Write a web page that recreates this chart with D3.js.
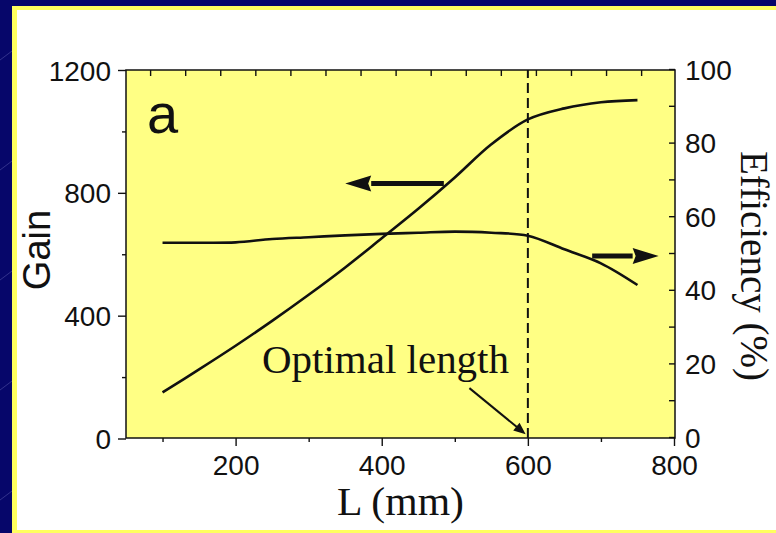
<!DOCTYPE html>
<html>
<head>
<meta charset="utf-8">
<script src="https://cdn.jsdelivr.net/npm/d3@7"></script>
<style>
  html, body { margin: 0; padding: 0; background: #06066a; }
  svg { display: block; }
</style>
</head>
<body>
<svg id="chart" width="776" height="533"></svg>
<script>
// values
var lengths = [100, 150, 200, 250, 300, 350, 400, 450, 500, 550, 600, 650, 700, 750];
var gainValues = [150, 225, 302, 383, 468, 557, 652, 748, 850, 958, 1039, 1075, 1095, 1102];
var efficiencyValues = [52.8, 52.8, 52.9, 53.8, 54.3, 54.8, 55.2, 55.5, 55.8, 55.5, 54.7, 51.0, 47.2, 41.3];

var xTicks = [200, 400, 600, 800],
    xMinorTicks = [100, 300, 500, 700],
    topTicks = [83, 131, 179, 227, 275, 323, 371, 419, 467, 515, 563, 611, 659, 707, 755];
var gainTicks = [0, 400, 800, 1200],
    gainMinorTicks = [200, 600, 1000];
var effTicks = [0, 10, 20, 30, 40, 50, 60, 70, 80, 90, 100];

var optimalLength = 600;

var svg = d3.select("#chart"),
    width = +svg.attr("width"),
    height = +svg.attr("height");

// slide background: navy with faint streaks
var defs = svg.append("defs");
var pat = defs.append("pattern")
    .attr("id", "streaks")
    .attr("width", 170).attr("height", 110)
    .attr("patternUnits", "userSpaceOnUse");
pat.append("rect").attr("width", 170).attr("height", 110).attr("fill", "#06066a");
pat.append("line")
    .attr("x1", 0).attr("y1", 60).attr("x2", 40).attr("y2", 30)
    .attr("stroke", "rgba(160,160,230,0.35)").attr("stroke-width", 0.8);
pat.append("line")
    .attr("x1", 90).attr("y1", 110).attr("x2", 130).attr("y2", 80)
    .attr("stroke", "rgba(160,160,230,0.3)").attr("stroke-width", 0.8);

svg.append("rect").attr("width", width).attr("height", height).attr("fill", "url(#streaks)");

// yellow framed white panel
svg.append("rect")
    .attr("x", 12).attr("y", 6)
    .attr("width", width).attr("height", height)
    .attr("fill", "#ffff5e");
svg.append("rect")
    .attr("x", 17).attr("y", 10)
    .attr("width", width).attr("height", 520)
    .attr("fill", "#ffffff");

var plot = {left: 126, top: 70, right: 675, bottom: 438};

var x = d3.scaleLinear().domain([50, 800]).range([plot.left, 674]);
var yGain = d3.scaleLinear().domain([0, 1200]).range([438.5, 70]);
var yEff = d3.scaleLinear().domain([0, 100]).range([437, 69]);

svg.append("rect")
    .attr("x", plot.left).attr("y", plot.top)
    .attr("width", plot.right - plot.left).attr("height", plot.bottom - plot.top)
    .attr("fill", "#ffff84");

var sans = "'Liberation Sans', Arial, sans-serif",
    serif = "'Liberation Serif', 'Times New Roman', serif";

function styleAxis(g) {
  g.select(".domain").remove();
  g.selectAll("line").attr("stroke", "#111").attr("stroke-width", 1.4);
  g.selectAll("text").attr("fill", "#111").style("font-family", sans).style("font-size", "28px");
}

// bottom axis
svg.append("g")
    .attr("transform", "translate(0," + plot.bottom + ")")
    .call(d3.axisBottom(x).tickValues(xMinorTicks).tickSize(4).tickFormat(""))
    .call(styleAxis);
svg.append("g")
    .attr("transform", "translate(0," + plot.bottom + ")")
    .call(d3.axisBottom(x).tickValues(xTicks).tickSize(8).tickFormat(d3.format("d")))
    .call(styleAxis)
    .call(function(g) { g.selectAll("text").attr("y", 37).attr("dy", 0); });

// top axis (inward ticks)
svg.append("g")
    .attr("transform", "translate(0," + plot.top + ")")
    .call(d3.axisTop(x).tickValues(topTicks).tickSize(-6).tickFormat(""))
    .call(styleAxis);

// left axis (gain)
svg.append("g")
    .attr("transform", "translate(" + plot.left + ",0)")
    .call(d3.axisLeft(yGain).tickValues(gainMinorTicks).tickSize(4).tickFormat(""))
    .call(styleAxis);
svg.append("g")
    .attr("transform", "translate(" + plot.left + ",0)")
    .call(d3.axisLeft(yGain).tickValues(gainTicks).tickSize(8).tickFormat(d3.format("d")))
    .call(styleAxis)
    .call(function(g) { g.selectAll("text").attr("x", -15).attr("dy", "0.36em"); });

// right axis (efficiency), ticks pointing inward
svg.append("g")
    .attr("transform", "translate(" + plot.right + ",0)")
    .call(d3.axisRight(yEff).tickValues(effTicks).tickSize(-6)
      .tickFormat(function(d) { return d % 20 === 0 ? d : ""; }))
    .call(styleAxis)
    .call(function(g) { g.selectAll("text").attr("x", 10).attr("dy", "0.36em"); });

// frame
svg.append("rect")
    .attr("x", plot.left).attr("y", plot.top)
    .attr("width", plot.right - plot.left).attr("height", plot.bottom - plot.top)
    .attr("fill", "none").attr("stroke", "#111").attr("stroke-width", 1.5);

// optimal length marker
svg.append("line")
    .attr("x1", x(optimalLength)).attr("x2", x(optimalLength))
    .attr("y1", plot.bottom).attr("y2", plot.top)
    .attr("stroke", "#111").attr("stroke-width", 2)
    .attr("stroke-dasharray", "10,5");

var gainLine = d3.line()
    .x(function(d, i) { return x(lengths[i]); })
    .y(function(d) { return yGain(d); })
    .curve(d3.curveCatmullRom.alpha(0.5));

var effLine = d3.line()
    .x(function(d, i) { return x(lengths[i]); })
    .y(function(d) { return yEff(d); })
    .curve(d3.curveCatmullRom.alpha(0.5));

svg.append("path")
    .attr("d", gainLine(gainValues))
    .attr("fill", "none").attr("stroke", "#111").attr("stroke-width", 2.6);

svg.append("path")
    .attr("d", effLine(efficiencyValues))
    .attr("fill", "none").attr("stroke", "#111").attr("stroke-width", 2.6);

// thick block arrows pointing at each curve's axis
function blockArrow(x0, x1, y, thick, headLen, headHalf) {
  var dir = x1 > x0 ? 1 : -1;
  var base = x1 - dir * headLen;
  svg.append("line")
      .attr("x1", x0).attr("x2", base).attr("y1", y).attr("y2", y)
      .attr("stroke", "#111").attr("stroke-width", thick);
  svg.append("path")
      .attr("d", "M" + x1 + "," + y + "L" + base + "," + (y - headHalf) +
                 "L" + (base + dir * 3) + "," + y + "L" + base + "," + (y + headHalf) + "Z")
      .attr("fill", "#111");
}
blockArrow(x(485), x(350), yGain(830), 5, 26, 8);
blockArrow(x(688), x(779), yEff(49.2), 5, 26, 8);

// annotation arrow
var ax0 = x(520), ay0 = yGain(164), ax1 = x(597), ay1 = yGain(14);
var ang = Math.atan2(ay1 - ay0, ax1 - ax0);
svg.append("line")
    .attr("x1", ax0).attr("y1", ay0)
    .attr("x2", ax1 - 9 * Math.cos(ang)).attr("y2", ay1 - 9 * Math.sin(ang))
    .attr("stroke", "#111").attr("stroke-width", 2);
svg.append("path")
    .attr("transform", "translate(" + ax1 + "," + ay1 + ") rotate(" + (ang * 180 / Math.PI) + ")")
    .attr("d", "M0,0L-12,-5L-12,5Z")
    .attr("fill", "#111");

// labels
svg.append("text")
    .attr("x", 147).attr("y", 133)
    .style("font-family", sans).style("font-size", "56px")
    .attr("fill", "#111")
    .text("a");

svg.append("text")
    .attr("x", 262).attr("y", 373)
    .attr("textLength", 247).attr("lengthAdjust", "spacingAndGlyphs")
    .style("font-family", serif).style("font-size", "39px")
    .attr("fill", "#111")
    .text("Optimal length");

svg.append("text")
    .attr("x", (plot.left + plot.right) / 2).attr("y", 515)
    .attr("text-anchor", "middle")
    .attr("textLength", 127).attr("lengthAdjust", "spacingAndGlyphs")
    .style("font-family", serif).style("font-size", "40px")
    .attr("fill", "#111")
    .text("L (mm)");

svg.append("text")
    .attr("transform", "translate(50,250) rotate(-90)")
    .attr("text-anchor", "middle")
    .style("font-family", sans).style("font-size", "38px")
    .attr("fill", "#111")
    .text("Gain");

svg.append("text")
    .attr("transform", "translate(741,266) rotate(90)")
    .attr("text-anchor", "middle")
    .style("font-family", serif).style("font-size", "39px")
    .attr("fill", "#111")
    .text("Efficiency (%)");
</script>
</body>
</html>
